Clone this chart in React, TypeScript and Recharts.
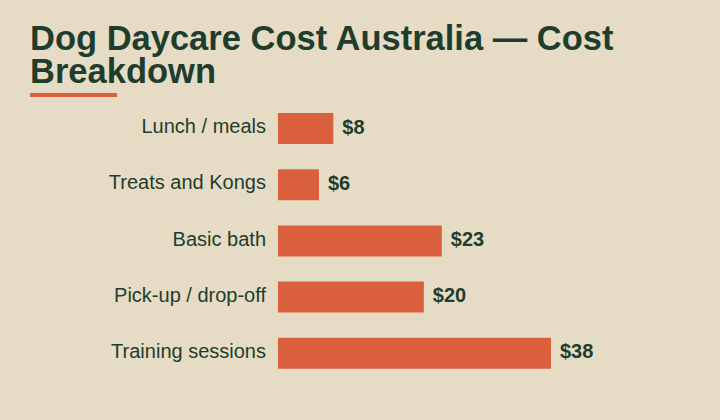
import { BarChart, Bar, XAxis, YAxis, LabelList } from "recharts";

const categories = ["Lunch / meals", "Treats and Kongs", "Basic bath", "Pick-up / drop-off", "Training sessions"];
const costs = [7.7, 5.7, 22.8, 20.3, 38];

const BG = "#e6dcc6";
const INK = "#1f3d2c";
const ACCENT = "#db603d";
const FONT = "'Liberation Sans', Arial, Helvetica, sans-serif";

const data = categories.map((name, i) => ({ name, cost: costs[i] }));

function CategoryTick({ x, y, payload }: any) {
  return (
    <text x={x} y={y} dy={5} textAnchor="end" fill={INK} fontSize={20} fontFamily={FONT}>
      {payload.value}
    </text>
  );
}

function ValueLabel({ x, y, width, height, value }: any) {
  return (
    <text
      x={x + width + 9}
      y={y + height / 2}
      dy={5}
      fill={INK}
      fontSize={20}
      fontWeight={700}
      fontFamily={FONT}
    >
      {`$${Math.round(value)}`}
    </text>
  );
}

export default function App() {
  return (
    <div
      style={{
        position: "absolute",
        top: 0,
        left: 0,
        width: 720,
        height: 420,
        background: BG,
        fontFamily: FONT,
        overflow: "hidden",
      }}
    >
      {/* Title */}
      <div
        style={{
          position: "absolute",
          top: 21.5,
          left: 30,
          width: 660,
          fontSize: 34.5,
          fontWeight: 700,
          lineHeight: "33px",
          color: INK,
        }}
      >
        Dog Daycare Cost Australia — Cost Breakdown
      </div>
      <div style={{ position: "absolute", top: 93, left: 30, width: 87, height: 4, background: ACCENT }} />

      {/* Chart */}
      <div style={{ position: "absolute", top: 0, left: 0 }}>
        <BarChart
          width={720}
          height={420}
          data={data}
          layout="vertical"
          margin={{ top: 100, right: 169, bottom: 39, left: 0 }}
          barCategoryGap={12}
        >
          <XAxis type="number" dataKey="cost" domain={[0, 38]} hide />
          <YAxis
            type="category"
            dataKey="name"
            width={278}
            axisLine={false}
            tickLine={false}
            tickSize={0}
            tickMargin={12}
            tick={<CategoryTick />}
          />
          <Bar dataKey="cost" fill={ACCENT} barSize={31} isAnimationActive={false}>
            <LabelList dataKey="cost" content={<ValueLabel />} />
          </Bar>
        </BarChart>
      </div>
    </div>
  );
}
